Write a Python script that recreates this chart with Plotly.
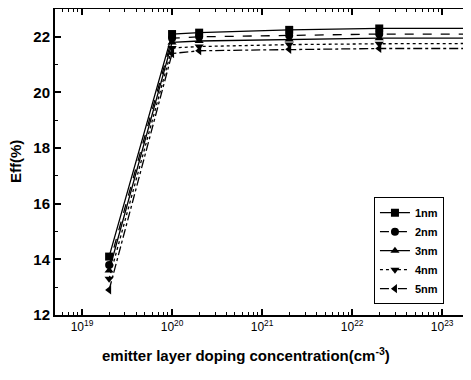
import plotly.graph_objects as go

doping = [2e19, 1e20, 2e20, 2e21, 2e22, 2e23]
series_names = ["1nm", "2nm", "3nm", "4nm", "5nm"]
eff_1nm = [14.1, 22.1, 22.15, 22.25, 22.3, 22.3]
eff_2nm = [13.8, 21.95, 22.0, 22.05, 22.1, 22.1]
eff_3nm = [13.6, 21.8, 21.85, 21.9, 21.95, 21.95]
eff_4nm = [13.3, 21.6, 21.65, 21.72, 21.75, 21.76]
eff_5nm = [12.9, 21.4, 21.5, 21.55, 21.58, 21.58]
x_tick_vals = [1e19, 1e20, 1e21, 1e22, 1e23]
x_tick_text = ["10<sup>19</sup>", "10<sup>20</sup>", "10<sup>21</sup>", "10<sup>22</sup>", "10<sup>23</sup>"]
x_title = "<b>emitter layer doping concentration(cm<sup>-3</sup>)</b>"
y_title = "<b>Eff(%)</b>"

series = [eff_1nm, eff_2nm, eff_3nm, eff_4nm, eff_5nm]
symbols = ["square", "circle", "triangle-up", "triangle-down", "triangle-left"]
dashes = ["solid", "dash", "solid", "dot", "dashdot"]

fig = go.Figure()
for name, vals, sym, dash in zip(series_names, series, symbols, dashes):
    fig.add_trace(go.Scatter(
        x=doping, y=vals, name=name, mode="lines+markers",
        line=dict(color="black", width=1.3, dash=dash),
        marker=dict(symbol=sym, size=8, color="black"),
    ))

fig.add_annotation(text=x_title, xref="paper", yref="paper", x=0.459, y=-0.13,
                   xanchor="center", yanchor="middle", showarrow=False,
                   font=dict(size=15))
fig.add_annotation(text=y_title, xref="paper", yref="paper", x=-0.096, y=0.5,
                   xanchor="center", yanchor="middle", showarrow=False,
                   textangle=-90, font=dict(size=15))

fig.update_layout(
    width=463, height=372,
    margin=dict(l=47, r=0, t=1, b=65),
    paper_bgcolor="white", plot_bgcolor="white",
    font=dict(family="Liberation Sans, Arial, sans-serif", color="black"),
    showlegend=True,
    legend=dict(
        x=0.935, y=0.385, xanchor="right", yanchor="top",
        bgcolor="white", bordercolor="black", borderwidth=1,
        font=dict(size=11, family="Liberation Sans, Arial, sans-serif", weight="bold"),
        itemwidth=30, tracegroupgap=0,
    ),
    xaxis=dict(
        type="log", range=[18.7, 23.32], automargin=False,
        tickvals=x_tick_vals, ticktext=x_tick_text,
        ticks="inside", ticklen=6, tickwidth=1.5, tickcolor="black",
        minor=dict(dtick="D1", ticks="inside", ticklen=3, tickwidth=1, tickcolor="black"),
        showline=True, linecolor="black", linewidth=2, mirror="ticks",
        showgrid=False, zeroline=False,
        tickfont=dict(size=12),
    ),
    yaxis=dict(
        range=[12, 23], dtick=2, tick0=12, automargin=False,
        ticks="inside", ticklen=6, tickwidth=1.5, tickcolor="black",
        minor=dict(dtick=1, ticks="inside", ticklen=3, tickwidth=1, tickcolor="black"),
        showline=True, linecolor="black", linewidth=2, mirror="ticks",
        showgrid=False, zeroline=False,
        tickfont=dict(size=15, weight="bold"),
    ),
)

fig.write_html("out.html")
